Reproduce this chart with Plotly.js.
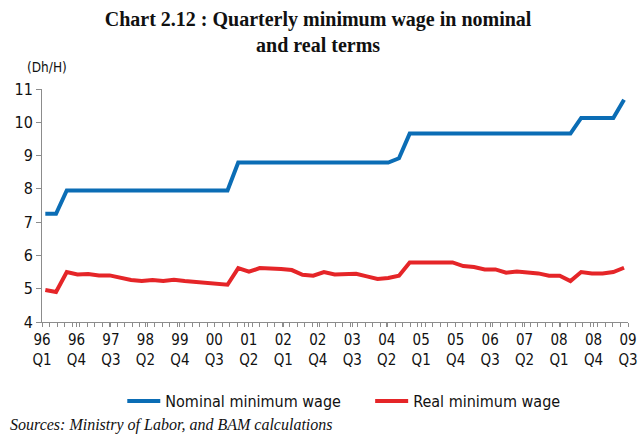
<!DOCTYPE html>
<html>
<head>
<meta charset="utf-8">
<script src="https://cdn.plot.ly/plotly-3.0.1.min.js"></script>
<style>html,body{margin:0;padding:0;background:#fff;}#chart{width:640px;height:434px;}</style>
</head>
<body>
<div id="chart"></div>
<script>
// Quarterly data, 1996 Q1 to 2009 Q3 (55 quarters)
const quarterIndex = Array.from({length: 55}, (_, i) => i);
const nominalWage = [
  7.25, 7.25, 7.95, 7.95, 7.95, 7.95, 7.95, 7.95, 7.95, 7.95,
  7.95, 7.95, 7.95, 7.95, 7.95, 7.95, 7.95, 7.95, 8.79, 8.79,
  8.79, 8.79, 8.79, 8.79, 8.79, 8.79, 8.79, 8.79, 8.79, 8.79,
  8.79, 8.79, 8.79, 8.92, 9.66, 9.66, 9.66, 9.66, 9.66, 9.66,
  9.66, 9.66, 9.66, 9.66, 9.66, 9.66, 9.66, 9.66, 9.66, 9.66,
  10.13, 10.13, 10.13, 10.13, 10.68
];
const realWage = [
  4.96, 4.90, 5.50, 5.43, 5.44, 5.40, 5.40, 5.33, 5.26, 5.23,
  5.26, 5.23, 5.27, 5.23, 5.20, 5.16, 5.16, 5.12, 5.62, 5.51,
  5.62, 5.59, 5.59, 5.56, 5.42, 5.39, 5.50, 5.43, 5.43, 5.45,
  5.37, 5.29, 5.32, 5.39, 5.79, 5.79, 5.79, 5.79, 5.79, 5.68,
  5.65, 5.58, 5.58, 5.48, 5.52, 5.49, 5.46, 5.39, 5.39, 5.23,
  5.50, 5.46, 5.46, 5.50, 5.63
];
const tickLabels = [
  "96<br>Q1", "96<br>Q4", "97<br>Q3", "98<br>Q2", "99<br>Q4", "00<br>Q3",
  "01<br>Q2", "02<br>Q1", "02<br>Q4", "03<br>Q3", "04<br>Q2", "05<br>Q1",
  "05<br>Q4", "06<br>Q3", "07<br>Q2", "08<br>Q1", "08<br>Q4", "09<br>Q3"
];

const xMin = -0.31, xMax = 54.37;
const tickVals = tickLabels.map((_, i) => xMin + i * (xMax - xMin) / (tickLabels.length - 1));

const sans = "Liberation Sans Narrow, DejaVu Sans Condensed, Liberation Sans, sans-serif";
const serif = "Liberation Serif, DejaVu Serif, serif";

const traces = [
  {x: quarterIndex, y: nominalWage, type: 'scatter', mode: 'lines', legend: 'legend',
   name: 'Nominal minimum wage', line: {color: '#0b6db5', width: 4}},
  {x: quarterIndex, y: realWage, type: 'scatter', mode: 'lines', legend: 'legend2',
   name: 'Real minimum wage', line: {color: '#e52528', width: 4}}
];

const legendBase = {
  orientation: 'h', xanchor: 'left', y: -0.34, yanchor: 'middle',
  font: {family: sans, size: 16, color: '#111'}, itemwidth: 33,
  bgcolor: 'rgba(0,0,0,0)'
};

const layout = {
  width: 640, height: 434,
  margin: {l: 42, r: 12, t: 89, b: 112},
  paper_bgcolor: '#fff', plot_bgcolor: '#fff',
  title: {
    text: '<b>Chart 2.12 : Quarterly minimum wage in nominal<br>and real terms</b>',
    font: {family: serif, size: 20, color: '#111'},
    x: 0.497, xanchor: 'center', y: 0.94, yanchor: 'middle', yref: 'container'
  },
  xaxis: {
    range: [xMin, xMax], showgrid: false, zeroline: false,
    showline: true, linecolor: '#8c8c8c', linewidth: 1,
    tickmode: 'array', tickvals: tickVals, ticktext: tickLabels,
    ticks: 'outside', ticklen: 4, tickcolor: '#8c8c8c',
    minor: {tickmode: 'linear', tick0: xMin, dtick: (xMax - xMin) / 78, ticks: 'outside', ticklen: 4, tickcolor: '#8c8c8c', showgrid: false},
    tickfont: {family: sans, size: 15, color: '#111'}
  },
  yaxis: {
    range: [4, 11], dtick: 1, showgrid: false, zeroline: false,
    showline: true, linecolor: '#8c8c8c', linewidth: 1,
    ticks: 'outside', ticklen: 5, tickcolor: '#8c8c8c',
    tickfont: {family: sans, size: 16, color: '#111'}
  },
  showlegend: true,
  legend: Object.assign({}, legendBase, {x: 0.137}),
  legend2: Object.assign({}, legendBase, {x: 0.560}),
  annotations: [
    {text: '(Dh/H)', xref: 'paper', yref: 'paper', x: 0.009, y: 1.095,
     xanchor: 'center', yanchor: 'middle', showarrow: false,
     font: {family: sans, size: 13.5, color: '#111'}},
    {text: '<i>Sources: Ministry of Labor, and BAM calculations</i>', xref: 'paper', yref: 'paper',
     x: -0.0575, y: -0.444, xanchor: 'left', yanchor: 'middle', showarrow: false,
     font: {family: serif, size: 16, color: '#111'}}
  ]
};

Plotly.newPlot('chart', traces, layout, {displayModeBar: false, staticPlot: true});
</script>
</body>
</html>
